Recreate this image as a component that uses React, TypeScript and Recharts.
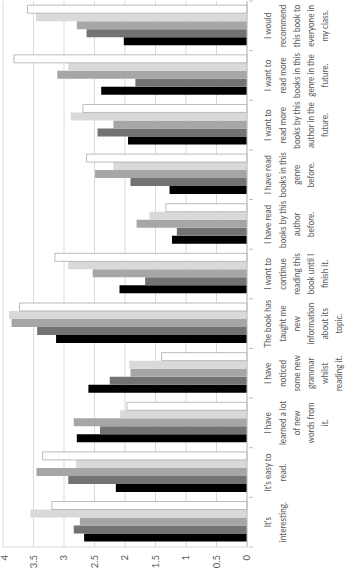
import React from "react";
import { BarChart, Bar, XAxis, YAxis, CartesianGrid } from "recharts";

// statements, already wrapped as in the source chart
const categories = [
  "It's\ninteresting.",
  "It's easy to\nread.",
  "I have\nlearned a lot\nof new\nwords from\nit.",
  "I have\nnoticed\nsome new\ngrammar\nwhilst\nreading it.",
  "The book has\ntaught me\nnew\ninformation\nabout its\ntopic.",
  "I want to\ncontinue\nreading this\nbook until I\nfinish it.",
  "I have read\nbooks by this\nauthor\nbefore.",
  "I have read\nbooks in this\ngenre\nbefore.",
  "I want to\nread more\nbooks by this\nauthor in the\nfuture.",
  "I want to\nread more\nbooks in this\ngenre in the\nfuture.",
  "I would\nrecommend\nthis book to\neveryone in\nmy class.",
];

const group1 = [2.67, 2.15, 2.79, 2.6, 3.13, 2.09, 1.23, 1.27, 1.95, 2.39, 2.02];
const group2 = [2.84, 2.93, 2.41, 2.25, 3.44, 1.67, 1.15, 1.91, 2.45, 1.83, 2.63];
const group3 = [2.74, 3.45, 2.84, 1.91, 3.86, 2.53, 1.81, 2.49, 2.19, 3.11, 2.79];
const group4 = [3.55, 2.8, 2.08, 1.93, 3.9, 2.93, 1.6, 2.19, 2.89, 2.93, 3.46];
const group5 = [3.2, 3.35, 1.97, 1.4, 3.73, 3.15, 1.33, 2.63, 2.69, 3.82, 3.6];

const valueTicks = [0, 0.5, 1, 1.5, 2, 2.5, 3, 3.5, 4];

const data = categories.map((cat, i) => ({
  cat,
  g1: group1[i],
  g2: group2[i],
  g3: group3[i],
  g4: group4[i],
  g5: group5[i],
}));

const FONT = "Lato, 'Liberation Sans', sans-serif";
const TEXT = "#595959";

function CategoryTick(props: any) {
  const { x, y, payload, index } = props;
  const half = payload.offset || 24.85;
  const lines = String(payload.value).split("\n");
  const last = index === categories.length - 1;
  return (
    <g>
      <line x1={x - half} x2={x - half} y1={y} y2={y + 4} stroke="#bfbfbf" />
      {last && <line x1={x + half} x2={x + half} y1={y} y2={y + 4} stroke="#bfbfbf" />}
      {/* the source text looks squeezed along the line */}
      <g transform={`translate(${x} 0) scale(0.86 1)`}>
        <text x={0} y={y + 22.5} textAnchor="middle" fill={TEXT} fontSize={9.5} fontFamily={FONT}>
          {lines.map((l, i) => (
            <tspan key={i} x={0} dy={i === 0 ? 0 : 14.2}>
              {l}
            </tspan>
          ))}
        </text>
      </g>
    </g>
  );
}

export default function App() {
  return (
    <div style={{ position: "absolute", top: 0, left: 0, width: 345, height: 588, overflow: "hidden", background: "#fff" }}>
      {/* the source picture is a column chart turned a quarter turn to the left */}
      <div style={{ width: 588, height: 345, transformOrigin: "0 0", transform: "translateY(588px) rotate(-90deg)" }}>
        <BarChart
          width={588}
          height={345}
          data={data}
          margin={{ top: 3, right: 1, bottom: 0, left: 0 }}
          barCategoryGap="11%"
          barGap={0}
        >
          <CartesianGrid vertical={false} stroke="#d9d9d9" />
          <XAxis
            dataKey="cat"
            interval={0}
            height={98}
            tick={<CategoryTick />}
            tickLine={false}
            tickSize={0}
            axisLine={{ stroke: "#bfbfbf" }}
          />
          <YAxis
            domain={[0, 4]}
            ticks={valueTicks}
            width={41}
            tickLine={false}
            tickSize={0}
            tickMargin={8}
            axisLine={{ stroke: "#d9d9d9" }}
            tick={{ fontSize: 9.5, fill: TEXT, fontFamily: FONT }}
          />
          <Bar dataKey="g1" fill="#000000" isAnimationActive={false} />
          <Bar dataKey="g2" fill="#737373" isAnimationActive={false} />
          <Bar dataKey="g3" fill="#a6a6a6" isAnimationActive={false} />
          <Bar dataKey="g4" fill="#d9d9d9" isAnimationActive={false} />
          <Bar dataKey="g5" fill="#ffffff" stroke="#a6a6a6" strokeWidth={0.75} isAnimationActive={false} />
        </BarChart>
      </div>
    </div>
  );
}
